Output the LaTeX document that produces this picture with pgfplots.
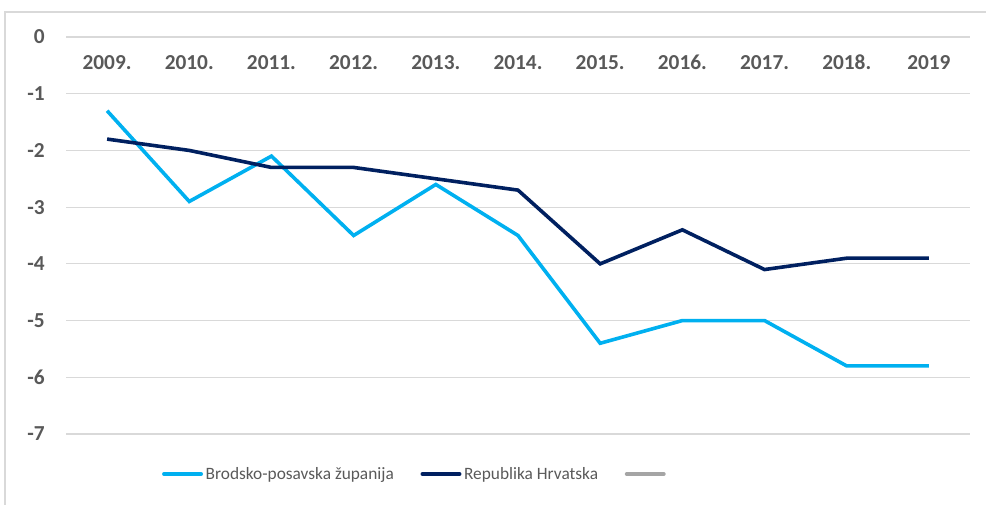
\documentclass[border=0pt]{standalone}
\usepackage{pgfplots}
\pgfplotsset{compat=1.18}
\usepackage{fontspec}
\setmainfont{Carlito}
\definecolor{lblue}{HTML}{00B0F0}
\definecolor{navy}{HTML}{002060}
\definecolor{tgray}{HTML}{595959}
\definecolor{ggray}{HTML}{D9D9D9}
\definecolor{lgray}{HTML}{A5A5A5}
\begin{document}
\begin{tikzpicture}
\useasboundingbox (0,0) rectangle (739.5pt,378pt);
\draw[ggray, line width=1.5pt] (3.75pt,-2pt) -- (3.75pt,369pt) -- (742pt,369pt);
\begin{axis}[
  at={(49.5pt,52.5pt)}, anchor=south west,
  width=678pt, height=297.75pt, scale only axis,
  xmin=-0.5, xmax=10.5, ymin=-7, ymax=0,
  axis line style={draw=none},
  tick style={draw=none},
  ymajorgrids, major grid style={ggray, line width=0.8pt},
  xtick={0,...,10},
  xticklabels={2009.,2010.,2011.,2012.,2013.,2014.,2015.,2016.,2017.,2018.,2019},
  xticklabel pos=upper,
  xticklabel style={anchor=base, inner sep=0pt, yshift=-24pt, font=\fontsize{16}{19}\selectfont\bfseries, text=tgray},
  ytick={-7,-6,-5,-4,-3,-2,-1,0},
  yticklabels={-7,-6,-5,-4,-3,-2,-1,0},
  yticklabel style={anchor=east, inner sep=0pt, xshift=-15.75pt, font=\fontsize{16}{19}\selectfont\bfseries, text=tgray},
  legend columns=3,
  legend style={at={(0.106,-0.1008)}, anchor=west, draw=none, fill=none, inner sep=0pt,
    font=\fontsize{13}{15}\selectfont, text=tgray,
    /tikz/every even column/.append style={column sep=18pt}},
  legend image code/.code={\draw[#1, line cap=round] (0pt,0pt) -- (28pt,0pt);},
]
\addplot[lblue, line width=2.7pt] coordinates {
(0,-1.3) (1,-2.9) (2,-2.1) (3,-3.5) (4,-2.6) (5,-3.5) (6,-5.4) (7,-5.0) (8,-5.0) (9,-5.8) (10,-5.8)};
\addlegendentry{Brodsko-posavska županija}
\addplot[navy, line width=2.7pt] coordinates {
(0,-1.8) (1,-2.0) (2,-2.3) (3,-2.3) (4,-2.5) (5,-2.7) (6,-4.0) (7,-3.4) (8,-4.1) (9,-3.9) (10,-3.9)};
\addlegendentry{Republika Hrvatska}
\addlegendimage{lgray, line width=2.7pt}
\addlegendentry{}
\end{axis}
\end{tikzpicture}
\end{document}
